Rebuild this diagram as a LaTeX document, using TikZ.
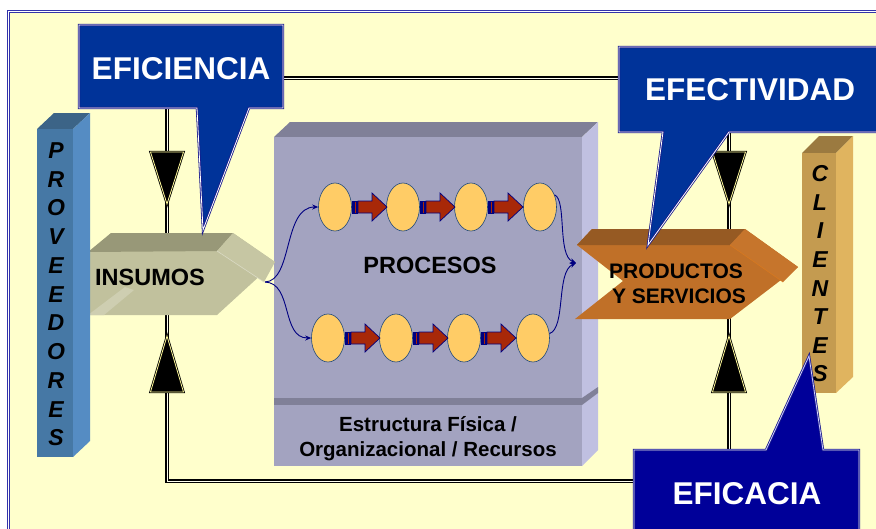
\documentclass[tikz,border=0pt]{standalone}
\usepackage{fontspec}
\setmainfont{Liberation Sans}
\usetikzlibrary{arrows.meta,shapes.geometric}
\definecolor{bgy}{RGB}{255,255,204}
\definecolor{brd}{RGB}{51,51,170}
\definecolor{calA}{RGB}{0,51,153}
\definecolor{calB}{RGB}{0,0,153}
\definecolor{calE}{RGB}{26,26,140}
\definecolor{provF}{RGB}{70,120,165}
\definecolor{provS}{RGB}{85,140,195}
\definecolor{provT}{RGB}{60,100,135}
\definecolor{cliF}{RGB}{196,155,80}
\definecolor{cliS}{RGB}{224,180,95}
\definecolor{cliT}{RGB}{155,122,64}
\definecolor{procF}{RGB}{163,163,192}
\definecolor{procT}{RGB}{128,128,152}
\definecolor{procS}{RGB}{192,192,225}
\definecolor{insF}{RGB}{193,193,157}
\definecolor{insT}{RGB}{152,152,120}
\definecolor{insS}{RGB}{198,198,163}
\definecolor{prodF}{RGB}{192,112,40}
\definecolor{prodT}{RGB}{150,90,35}
\definecolor{prodS}{RGB}{198,117,44}
\definecolor{ellc}{RGB}{255,204,102}
\definecolor{ellD}{RGB}{31,73,125}
\definecolor{arrR}{RGB}{168,40,8}
\definecolor{navyc}{RGB}{0,0,128}
\begin{document}
\begin{tikzpicture}[x=1pt,y=-1pt,
  frame/.style={draw=brd,double=white,line width=0.9pt,double distance=1.5pt},
  dbl/.style={draw=black,double=white!70!bgy,line width=1.1pt,double distance=0.9pt,line join=miter},
  tri/.style={fill=black,draw=black,double=white!60!yellow,line width=0.8pt,double distance=0.8pt,line join=miter},
  callA/.style={fill=calA,draw=calE,double=white,line width=0.8pt,double distance=0.8pt,line join=miter},
  callB/.style={fill=calB,draw=calE,double=white!80!blue,line width=0.8pt,double distance=0.8pt,line join=miter},
  bigtxt/.style={font=\fontsize{31.5}{36}\selectfont\bfseries,text=white,anchor=base,inner sep=0pt},
  midtxt/.style={font=\fontsize{23.5}{26}\selectfont\bfseries,anchor=base,inner sep=0pt},
  prodtxt/.style={font=\fontsize{21}{24}\selectfont\bfseries,anchor=base,inner sep=0pt},
  esttxt/.style={font=\fontsize{20.5}{24}\selectfont\bfseries,anchor=base,inner sep=0pt},
  barletter/.style={font=\fontsize{23}{26}\selectfont\bfseries\itshape,anchor=center,inner sep=0pt},
  elli/.style={ellipse,fill=ellc,draw=ellD,line width=0.6pt,minimum width=33pt,minimum height=48pt,inner sep=0pt},
  curv/.style={draw=navyc,line width=0.9pt,-{Stealth[length=6pt,width=5pt]}},
  barr/.pic={
    \fill[navyc] (0,-6.5) rectangle (6,6.5);
    \draw[arrR,line width=0.8pt] (3,-5.5) -- (3,5.5);
    \draw[navyc,fill=arrR,line width=0.7pt,line join=miter] (6,-6) -- (20,-6) -- (20,-14) -- (35,0) -- (20,14) -- (20,6) -- (6,6) -- cycle;
  },
  trid/.pic={\path[tri] (-16.5,0) -- (16.5,0) -- (0,52) -- cycle;},
  triu/.pic={\path[tri] (-16.5,0) -- (16.5,0) -- (0,-56) -- cycle;}
]
\useasboundingbox (0,0) rectangle (876,528);
\begin{scope}
\clip (0,0) rectangle (876,528);
\fill[white] (0,0) rectangle (876,528);
\fill[bgy] (8.5,11.5) rectangle (900,560);
\draw[frame] (8.5,11.5) rectangle (900,560);

% connector end points
\coordinate (efiS) at (167,108);
\coordinate (efiE) at (283,78);
\coordinate (efeW) at (619,78);
\coordinate (efeS) at (729,132);
\coordinate (efcN) at (729,450);
\coordinate (efcW) at (634,481);
\coordinate (insN) at (167,240);
\coordinate (insS) at (167,312);
\coordinate (prN) at (729,236);
\coordinate (prS) at (729,312);
\coordinate (insT) at (265,282);
\coordinate (pm) at (576,263);

% feedback connectors
\draw[dbl] (efiS) -- (insN);
\draw[dbl] (efiE) -- (efeW);
\draw[dbl] (efeS) -- (prN);
\draw[dbl] (prS) -- (efcN);
\draw[dbl] (efcW) -| (insS);
\pic at (167,152) {trid};
\pic at (729,152) {trid};
\pic at (729,392) {triu};
\pic at (167,392) {triu};

% PROCESOS box
\fill[procT] (274,137) -- (290,122) -- (598,122) -- (582,137) -- cycle;
\fill[procS] (582,137) -- (598,122) -- (598,450) -- (582,466) -- cycle;
\fill[procF] (274,137) rectangle (582,466);
\fill[procT] (274,398) rectangle (582,405);
\fill[procT] (582,398) -- (598,387) -- (598,393) -- (582,405) -- cycle;
\node[midtxt] (proc) at (430,273) {PROCESOS};
\node[esttxt] (est1) at (428,431.5) {Estructura Física /};
\node[esttxt] (est2) at (428,456.5) {Organizacional / Recursos};

% ellipses and block arrows
\foreach \xx [count=\i] in {335,403,471,540} \node[elli] (t\i) at (\xx,207) {};
\foreach \xx [count=\i] in {328,396,464,533} \node[elli] (b\i) at (\xx,338) {};
\foreach \xx in {352,420,488} \pic at (\xx,207) {barr};
\foreach \xx in {345,413,481} \pic at (\xx,338) {barr};

% INSUMOS
\fill[insF] (88,253) -- (112,233) -- (233,233) -- (275,262) -- (217,315) -- (88,315) -- cycle;
\fill[insT] (88,252) -- (111,233) -- (233,233) -- (217,251) -- cycle;
\fill[insS] (217,251) -- (233,233) -- (275,262) -- (264,282) -- cycle;
\draw[insF!60!white,line width=0.6pt] (217,251) -- (264,282);
\fill[insF!80!white] (88,315) -- (125,287) -- (134,290) -- (104,315) -- cycle;
\node[midtxt,anchor=base west] (ins) at (95,285) {INSUMOS};

% curves through the processes
\draw[curv] (insT) .. controls (293,281) and (283,207) .. (t1.west);
\draw[curv] (insT) .. controls (293,283) and (281,338) .. (b1.west);
\draw[curv] (t4.40) .. controls (567,200) and (557,255) .. (pm);
\draw[curv] (b4.15) .. controls (566,328) and (556,272) .. (pm);

% PRODUCTOS Y SERVICIOS
\fill[prodF] (577,245) -- (592,229) -- (745,229) -- (798,267) -- (730,319) -- (575,319) -- (623,281) -- cycle;
\fill[prodT] (577,245) -- (592,229) -- (745,229) -- (730,245) -- cycle;
\fill[prodS] (730,245) -- (745,229) -- (798,267) -- (783,282) -- cycle;
\draw[prodS!70!orange,line width=0.6pt] (730,245) -- (783,282);
\node[prodtxt] (prod1) at (676,278.5) {PRODUCTOS};
\node[prodtxt] (prod2) at (679,303.5) {Y SERVICIOS};

% PROVEEDORES bar
\fill[provT] (37,129) -- (54,113) -- (90,113) -- (73,129) -- cycle;
\fill[provS] (73,129) -- (90,113) -- (90,441) -- (73,457) -- cycle;
\fill[provF] (37,129) rectangle (73,457);
\foreach \l [count=\i from 0] in {P,R,O,V,E,E,D,O,R,E,S}
  \node[barletter] (pv\i) at (56,150.5+28.75*\i) {\l};

% CLIENTES bar
\fill[cliT] (802,153) -- (819,136) -- (853,136) -- (836,153) -- cycle;
\fill[cliS] (836,153) -- (853,136) -- (853,377) -- (836,393) -- cycle;
\fill[cliF] (802,153) rectangle (836,393);
\foreach \l [count=\i from 0] in {C,L,I,E,N,T,E,S}
  \node[barletter] (cl\i) at (820,173.5+28.65*\i) {\l};

% callouts
\path[callA] (79,25) -- (283,25) -- (283,108) -- (249,108) -- (203,230) -- (197,108) -- (79,108) -- cycle;
\node[bigtxt] (efi) at (181,79) {EFICIENCIA};
\path[callA] (619,47) -- (890,47) -- (890,132) -- (729,132) -- (648,245) -- (663,132) -- (619,132) -- cycle;
\node[bigtxt] (efe) at (750,100.5) {EFECTIVIDAD};
\path[callB] (634,450) -- (766,450) -- (809,356) -- (823,450) -- (859,450) -- (859,560) -- (634,560) -- cycle;
\node[bigtxt] (efc) at (747,504) {EFICACIA};
\end{scope}
\end{tikzpicture}
\end{document}
